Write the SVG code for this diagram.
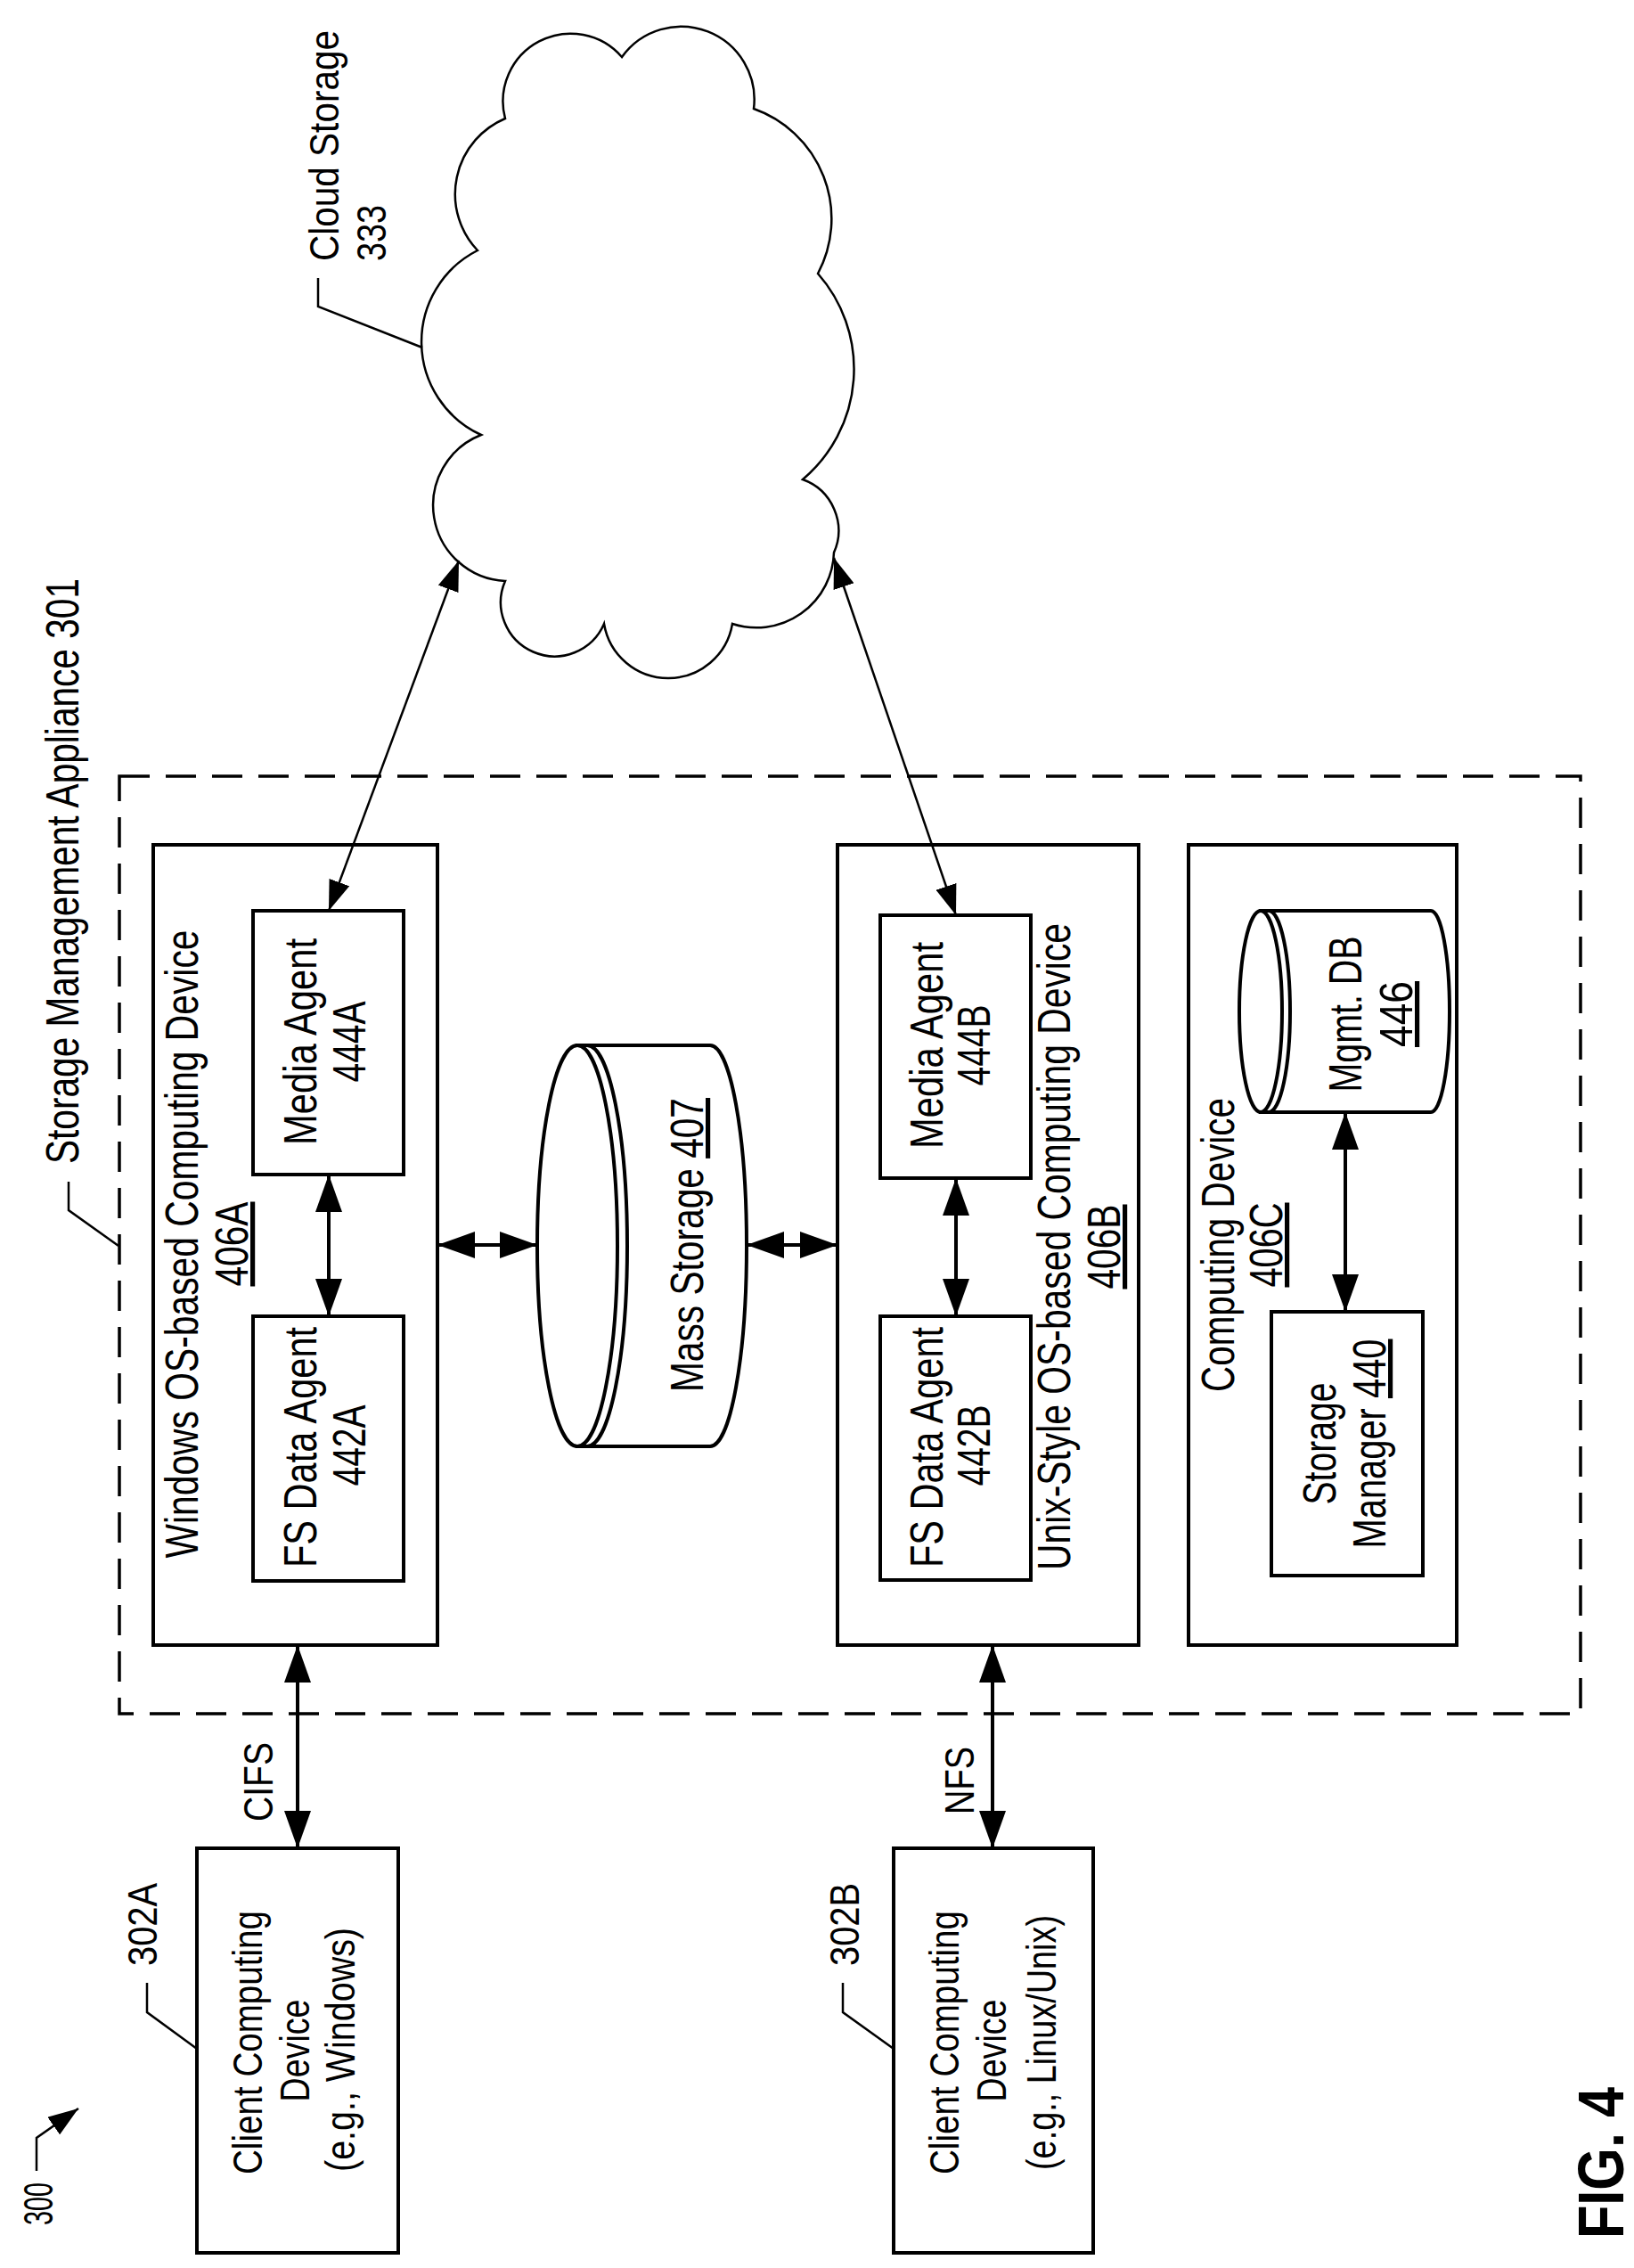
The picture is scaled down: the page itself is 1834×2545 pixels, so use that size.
<svg xmlns="http://www.w3.org/2000/svg" width="1834" height="2545" viewBox="0 0 1834 2545">
<style>
.t{font-family:"Liberation Sans",Arial,sans-serif;font-size:52px;fill:#000}
.c{font-family:"Liberation Sans",Arial,sans-serif;font-size:46px;fill:#000}
.b{fill:#fff;stroke:#000;stroke-width:4}
.ln{fill:none;stroke:#000;stroke-width:4}
.thin{fill:none;stroke:#000;stroke-width:2.5}
</style>
<defs>
<marker id="ah" markerUnits="userSpaceOnUse" markerWidth="44" markerHeight="30" refX="42" refY="15" orient="auto-start-reverse"><path d="M0,0 L42,15 L0,30 Z" fill="#000"/></marker>
<marker id="ah2" markerUnits="userSpaceOnUse" markerWidth="36" markerHeight="24" refX="34" refY="12" orient="auto-start-reverse"><path d="M0,0 L34,12 L0,24 Z" fill="#000"/></marker>
</defs>
<rect x="0" y="0" width="1834" height="2545" fill="#fff"/>

<g id="appliance">
<rect x="134" y="871" width="1640" height="1052" fill="none" stroke="#000" stroke-width="3.5" stroke-dasharray="34 18"/>
<path class="thin" d="M133,1398 L77,1358 L77,1326"/>
<text class="t" transform="translate(88,1306) rotate(-90)" textLength="657" lengthAdjust="spacingAndGlyphs">Storage Management Appliance 301</text>
</g>

<g id="cloud">
<path class="thin" d="M698,64 A82,82 0 0 1 846,122 A131,131 0 0 1 918,307 A162,162 0 0 1 901,538 A61,61 0 0 1 936,620 A87,87 0 0 1 822,700 A73,73 0 0 1 678,700 A60,60 0 0 1 567,652 A85,85 0 0 1 540,488 A115,115 0 0 1 536,281 A92,92 0 0 1 567,133 A76,76 0 0 1 698,64 Z"/>
<path class="thin" d="M474,390 L357,344 L357,312"/>
<text class="c" transform="translate(380,293) rotate(-90)" textLength="259" lengthAdjust="spacingAndGlyphs">Cloud Storage</text>
<text class="c" transform="translate(433,293) rotate(-90)" textLength="63" lengthAdjust="spacingAndGlyphs">333</text>
</g>

<g id="dev406A">
<rect class="b" x="172" y="948" width="319" height="898"/>
<text class="t" transform="translate(222,1396) rotate(-90)" text-anchor="middle" textLength="705" lengthAdjust="spacingAndGlyphs">Windows OS-based Computing Device</text>
<text class="t" transform="translate(278,1396) rotate(-90)" text-anchor="middle" textLength="95" lengthAdjust="spacingAndGlyphs" text-decoration="underline">406A</text>
</g>
<g id="ma444A">
<rect class="b" x="284" y="1022" width="169" height="296"/>
<text class="t" transform="translate(355,1169) rotate(-90)" text-anchor="middle" textLength="232" lengthAdjust="spacingAndGlyphs">Media Agent</text>
<text class="t" transform="translate(410,1169) rotate(-90)" text-anchor="middle" textLength="91" lengthAdjust="spacingAndGlyphs">444A</text>
</g>
<g id="fs442A">
<rect class="b" x="284" y="1477" width="169" height="297"/>
<text class="t" transform="translate(355,1624) rotate(-90)" text-anchor="middle" textLength="270" lengthAdjust="spacingAndGlyphs">FS Data Agent</text>
<text class="t" transform="translate(410,1622) rotate(-90)" text-anchor="middle" textLength="91" lengthAdjust="spacingAndGlyphs">442A</text>
</g>

<g id="mass407">
<path class="b" d="M648,1173 L797,1173 A41,225 0 0 1 797,1623 L648,1623 Z"/>
<ellipse class="b" cx="648" cy="1398" rx="45" ry="225"/>
<path class="ln" d="M659,1173 A45,225 0 0 1 659,1623"/>
<text class="t" transform="translate(789,1397) rotate(-90)" text-anchor="middle" textLength="330" lengthAdjust="spacingAndGlyphs">Mass Storage <tspan text-decoration="underline">407</tspan></text>
</g>

<g id="dev406B">
<rect class="b" x="940" y="948" width="338" height="898"/>
<text class="t" transform="translate(1201,1399) rotate(-90)" text-anchor="middle" textLength="726" lengthAdjust="spacingAndGlyphs">Unix-Style OS-based Computing Device</text>
<text class="t" transform="translate(1257,1399) rotate(-90)" text-anchor="middle" textLength="95" lengthAdjust="spacingAndGlyphs" text-decoration="underline">406B</text>
</g>
<g id="ma444B">
<rect class="b" x="988" y="1027" width="169" height="295"/>
<text class="t" transform="translate(1058,1173) rotate(-90)" text-anchor="middle" textLength="232" lengthAdjust="spacingAndGlyphs">Media Agent</text>
<text class="t" transform="translate(1111,1173) rotate(-90)" text-anchor="middle" textLength="91" lengthAdjust="spacingAndGlyphs">444B</text>
</g>
<g id="fs442B">
<rect class="b" x="988" y="1477" width="169" height="296"/>
<text class="t" transform="translate(1058,1624) rotate(-90)" text-anchor="middle" textLength="270" lengthAdjust="spacingAndGlyphs">FS Data Agent</text>
<text class="t" transform="translate(1111,1622) rotate(-90)" text-anchor="middle" textLength="91" lengthAdjust="spacingAndGlyphs">442B</text>
</g>

<g id="dev406C">
<rect class="b" x="1334" y="948" width="301" height="898"/>
<text class="t" transform="translate(1385,1397) rotate(-90)" text-anchor="middle" textLength="330" lengthAdjust="spacingAndGlyphs">Computing Device</text>
<text class="t" transform="translate(1439,1397) rotate(-90)" text-anchor="middle" textLength="95" lengthAdjust="spacingAndGlyphs" text-decoration="underline">406C</text>
</g>
<g id="db446">
<path class="b" d="M1415,1022 L1606,1022 A21,113 0 0 1 1606,1248 L1415,1248 Z"/>
<ellipse class="b" cx="1415" cy="1135" rx="24" ry="113"/>
<path class="ln" d="M1424,1022 A24,113 0 0 1 1424,1248"/>
<text class="t" transform="translate(1528,1138) rotate(-90)" text-anchor="middle" textLength="175" lengthAdjust="spacingAndGlyphs">Mgmt. DB</text>
<text class="t" transform="translate(1585,1138) rotate(-90)" text-anchor="middle" textLength="74" lengthAdjust="spacingAndGlyphs" text-decoration="underline">446</text>
</g>
<g id="sm440">
<rect class="b" x="1427" y="1472" width="170" height="296"/>
<text class="t" transform="translate(1499,1620) rotate(-90)" text-anchor="middle" textLength="137" lengthAdjust="spacingAndGlyphs">Storage</text>
<text class="t" transform="translate(1555,1620) rotate(-90)" text-anchor="middle" textLength="235" lengthAdjust="spacingAndGlyphs">Manager <tspan text-decoration="underline">440</tspan></text>
</g>

<g id="client302A">
<rect class="b" x="221" y="2074" width="226" height="454"/>
<text class="c" transform="translate(294,2292) rotate(-90)" text-anchor="middle" textLength="296" lengthAdjust="spacingAndGlyphs">Client Computing</text>
<text class="c" transform="translate(347,2301) rotate(-90)" text-anchor="middle" textLength="115" lengthAdjust="spacingAndGlyphs">Device</text>
<text class="c" transform="translate(398,2300) rotate(-90)" text-anchor="middle" textLength="274" lengthAdjust="spacingAndGlyphs">(e.g., Windows)</text>
<path class="thin" d="M221,2299 L165,2258 L165,2225"/>
<text class="c" transform="translate(176,2206) rotate(-90)" textLength="93" lengthAdjust="spacingAndGlyphs">302A</text>
</g>
<g id="client302B">
<rect class="b" x="1003" y="2074" width="224" height="454"/>
<text class="c" transform="translate(1076,2292) rotate(-90)" text-anchor="middle" textLength="296" lengthAdjust="spacingAndGlyphs">Client Computing</text>
<text class="c" transform="translate(1129,2301) rotate(-90)" text-anchor="middle" textLength="115" lengthAdjust="spacingAndGlyphs">Device</text>
<text class="c" transform="translate(1185,2292) rotate(-90)" text-anchor="middle" textLength="286" lengthAdjust="spacingAndGlyphs">(e.g., Linux/Unix)</text>
<path class="thin" d="M1003,2299 L946,2258 L946,2225"/>
<text class="c" transform="translate(964,2206) rotate(-90)" textLength="93" lengthAdjust="spacingAndGlyphs">302B</text>
</g>

<g id="connectors">
<line class="ln" x1="369" y1="1318" x2="369" y2="1477" marker-start="url(#ah)" marker-end="url(#ah)"/>
<line class="ln" x1="1073" y1="1322" x2="1073" y2="1477" marker-start="url(#ah)" marker-end="url(#ah)"/>
<line class="ln" x1="1510" y1="1248" x2="1510" y2="1472" marker-start="url(#ah)" marker-end="url(#ah)"/>
<line class="ln" x1="491" y1="1397" x2="603" y2="1397" marker-start="url(#ah)" marker-end="url(#ah)"/>
<line class="ln" x1="838" y1="1397" x2="940" y2="1397" marker-start="url(#ah)" marker-end="url(#ah)"/>
<line class="thin" x1="369" y1="1022" x2="515" y2="629" marker-start="url(#ah2)" marker-end="url(#ah2)"/>
<line class="thin" x1="1073" y1="1027" x2="936" y2="626" marker-start="url(#ah2)" marker-end="url(#ah2)"/>
<line class="ln" x1="334" y1="1846" x2="334" y2="2074" marker-start="url(#ah)" marker-end="url(#ah)"/>
<line class="ln" x1="1114" y1="1846" x2="1114" y2="2074" marker-start="url(#ah)" marker-end="url(#ah)"/>
<text class="c" transform="translate(306,2044) rotate(-90)" textLength="89" lengthAdjust="spacingAndGlyphs">CIFS</text>
<text class="c" transform="translate(1093,2036) rotate(-90)" textLength="76" lengthAdjust="spacingAndGlyphs">NFS</text>
</g>

<g id="fig">
<path class="thin" d="M41,2436 L41,2399 L88,2366" marker-end="url(#ah2)"/>
<text class="c" transform="translate(59,2497) rotate(-90)" textLength="48" lengthAdjust="spacingAndGlyphs">300</text>
<text transform="translate(1822,2512) rotate(-90)" font-family="Liberation Sans,Arial,sans-serif" font-weight="bold" font-size="72" textLength="170" lengthAdjust="spacingAndGlyphs">FIG. 4</text>
</g>
</svg>
